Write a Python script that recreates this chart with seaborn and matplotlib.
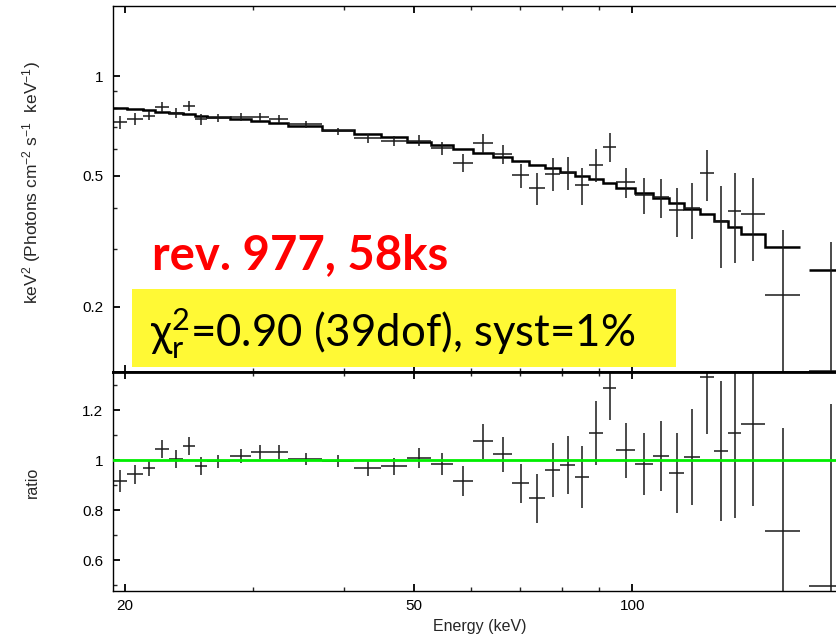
import numpy as np
import matplotlib
matplotlib.use("Agg")
import matplotlib.pyplot as plt
from matplotlib.ticker import FixedLocator, NullFormatter, FixedFormatter
import seaborn as sns

# ---------------- data ----------------
bin_lo = [19.25, 20.1, 21.2, 22.0, 23.0, 24.0, 25.0, 25.9, 27.9, 29.8,
          31.6, 33.5, 37.4, 41.3, 45.1, 48.9, 52.8, 56.6, 60.3, 64.3,
          68.2, 72.1, 75.8, 79.5, 83.4, 87.2, 91.1, 95.0, 100.7, 106.6,
          112.2, 117.9, 123.8, 129.4, 135.3, 141.3, 152.2, 175.0]
bin_hi = [20.1, 21.2, 22.0, 23.0, 24.0, 25.0, 25.9, 27.9, 29.8, 31.6,
          33.5, 37.4, 41.3, 45.1, 48.9, 52.8, 56.6, 60.3, 64.3, 68.2,
          72.1, 75.8, 79.5, 83.4, 87.2, 91.1, 95.0, 100.7, 106.6, 112.2,
          117.9, 123.8, 129.4, 135.3, 141.3, 152.2, 170.1, 200.0]
flux = [0.726, 0.742, 0.760, 0.809, 0.776, 0.815, 0.741, 0.747, 0.754, 0.754,
        0.741, 0.715, 0.681, 0.649, 0.638, 0.638, 0.605, 0.547, 0.626, 0.581,
        0.501, 0.458, 0.506, 0.510, 0.468, 0.540, 0.612, 0.477, 0.437, 0.430,
        0.392, 0.398, 0.508, 0.364, 0.391, 0.383, 0.2175, 0.128]
flux_err = [0.034, 0.030, 0.025, 0.029, 0.027, 0.028, 0.027, 0.019, 0.021, 0.021,
            0.021, 0.018, 0.017, 0.021, 0.022, 0.025, 0.028, 0.035, 0.042, 0.040,
            0.042, 0.051, 0.058, 0.059, 0.061, 0.061, 0.063, 0.050, 0.054, 0.057,
            0.066, 0.076, 0.088, 0.102, 0.119, 0.108, 0.125, 0.187]
model = [0.800, 0.795, 0.790, 0.782, 0.775, 0.768, 0.760, 0.752, 0.742, 0.732,
         0.720, 0.708, 0.688, 0.670, 0.653, 0.634, 0.617, 0.600, 0.584, 0.569,
         0.554, 0.540, 0.527, 0.514, 0.500, 0.487, 0.474, 0.459, 0.444, 0.428,
         0.413, 0.397, 0.382, 0.364, 0.349, 0.333, 0.304, 0.258]
ratio = [0.917, 0.944, 0.967, 1.045, 1.004, 1.057, 0.976, 0.995, 1.016, 1.032,
         1.032, 1.005, 0.996, 0.967, 0.976, 1.009, 0.984, 0.916, 1.075, 1.023,
         0.907, 0.847, 0.960, 0.980, 0.932, 1.109, 1.289, 1.040, 0.984, 1.017,
         0.949, 1.013, 1.333, 1.036, 1.109, 1.144, 0.716, 0.496]
ratio_err = [0.043, 0.038, 0.031, 0.037, 0.035, 0.037, 0.035, 0.025, 0.028, 0.029,
             0.029, 0.025, 0.025, 0.031, 0.034, 0.039, 0.045, 0.059, 0.071, 0.070,
             0.079, 0.097, 0.109, 0.117, 0.124, 0.128, 0.129, 0.110, 0.125, 0.141,
             0.161, 0.193, 0.230, 0.280, 0.342, 0.327, 0.411, 0.727]

xticks_major = [20, 50, 100]
xticks_minor = [30, 40, 60, 70, 80, 90, 200]
top_yticks_major = [0.2, 0.5, 1]
top_yticks_labels = ["0.2", "0.5", "1"]
top_yticks_minor = [0.3, 0.4, 0.6, 0.7, 0.8, 0.9]
bot_yticks_major = [0.6, 0.8, 1.0, 1.2]
bot_yticks_labels = ["0.6", "0.8", "1", "1.2"]
bot_yticks_minor = [0.5, 0.7, 0.9, 1.1, 1.3]

title_text = "rev. 977, 58ks"
box_text = r"χ$^{2}_{\mathregular{r}}$=0.90 (39dof), syst=1%"

# ---------------- style ----------------
sns.set_style("ticks")
plt.rcParams["font.family"] = ["Liberation Sans", "DejaVu Sans"]
plt.rcParams["mathtext.default"] = "regular"

lo = np.array(bin_lo); hi = np.array(bin_hi)
xc = (lo + hi) / 2.0
xerr = [xc - lo, hi - xc]

W, H = 837, 634
fig = plt.figure(figsize=(W / 100, H / 100), dpi=100)
left = 113 / W
width = (851 - 113) / W
ax1 = fig.add_axes([left, 1 - 372 / H, width, (372 - 6) / H])
ax2 = fig.add_axes([left, 1 - 591 / H, width, (591 - 372) / H])

xlim = (19.25, 200)
data_col = "#1a1a1a"

# top panel
ax1.set_xscale("log"); ax1.set_yscale("log")
ax1.set_xlim(*xlim); ax1.set_ylim(0.127, 1.633)
ax1.stairs(model[:-1], list(bin_lo[:-1]) + [bin_hi[-2]], color="black", lw=1.8, baseline=None)
ax1.hlines(model[-1], bin_lo[-1], bin_hi[-1], color="black", lw=1.8)
ax1.errorbar(xc, flux, xerr=xerr, yerr=flux_err, fmt="none", ecolor=data_col,
             elinewidth=1.1, capsize=0)

# bottom panel
ax2.set_xscale("log")
ax2.set_xlim(*xlim); ax2.set_ylim(0.476, 1.352)
sns.lineplot(x=list(xlim), y=[1.0, 1.0], ax=ax2, color="#00ee00", lw=2.0, zorder=3)
ax2.errorbar(xc, ratio, xerr=xerr, yerr=ratio_err, fmt="none", ecolor=data_col,
             elinewidth=1.1, capsize=0, zorder=2)

for ax in (ax1, ax2):
    ax.xaxis.set_major_locator(FixedLocator(xticks_major))
    ax.xaxis.set_minor_locator(FixedLocator(xticks_minor))
    ax.xaxis.set_minor_formatter(NullFormatter())
    ax.tick_params(axis="both", which="major", direction="in", length=5, width=1.3,
                   top=True, bottom=True, left=True, right=True, labelsize=11, pad=7,
                   colors="black")
    ax.tick_params(axis="both", which="minor", direction="in", length=3, width=1.0,
                   top=True, bottom=True, left=True, right=True)
    for s in ax.spines.values():
        s.set_color("black"); s.set_linewidth(1.0)
    ax.set_xlabel(""); ax.set_ylabel("")

ax1.xaxis.set_major_formatter(NullFormatter())
ax1.yaxis.set_major_locator(FixedLocator(top_yticks_major))
ax1.yaxis.set_major_formatter(FixedFormatter(top_yticks_labels))
ax1.yaxis.set_minor_locator(FixedLocator(top_yticks_minor))
ax1.yaxis.set_minor_formatter(NullFormatter())
ax1.spines["bottom"].set_linewidth(2.0)

ax2.xaxis.set_major_formatter(FixedFormatter([str(v) for v in xticks_major]))
ax2.yaxis.set_major_locator(FixedLocator(bot_yticks_major))
ax2.yaxis.set_major_formatter(FixedFormatter(bot_yticks_labels))
ax2.yaxis.set_minor_locator(FixedLocator(bot_yticks_minor))
ax2.spines["top"].set_linewidth(2.0)
ax2.tick_params(axis="x", which="major", pad=6)

# axis labels
fig.text(32 / W, 1 - 183 / H, r"keV$^2$ (Photons cm$^{-2}$ s$^{-1}$  keV$^{-1}$)",
         rotation=90, ha="center", va="center", fontsize=12.5)
fig.text(32 / W, 1 - 482 / H, "ratio", rotation=90, ha="center", va="center", fontsize=11.5)
fig.text(480 / W, 1 - 626 / H, "Energy (keV)", ha="center", va="center", fontsize=11.5)

# annotations
fig.text(152 / W, 1 - 255 / H, title_text, color="#ff0000", fontsize=34,
         fontweight="bold", family=["Lato", "DejaVu Sans"], ha="left", va="center")
box = plt.Rectangle((132 / W, 1 - 367 / H), (676 - 132) / W, (367 - 289) / H,
                    transform=fig.transFigure, facecolor="#fff935", edgecolor="none",
                    zorder=5)
fig.add_artist(box)
fig.text(150 / W, 1 - 333 / H, box_text, color="black", fontsize=31.5,
         family=["Lato", "DejaVu Sans"], ha="left", va="center", zorder=6)

fig.savefig("out.png", dpi=100)
